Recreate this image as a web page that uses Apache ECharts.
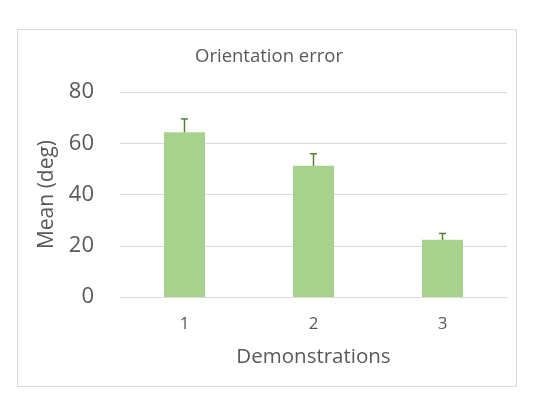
<!DOCTYPE html>
<html>
<head>
<meta charset="utf-8">
<style>
  html, body { margin: 0; padding: 0; background: #fff; }
  #wrap { position: relative; width: 538px; height: 419px; }
  #frame { position: absolute; left: 17px; top: 29px; width: 500px; height: 358px; border: 1px solid #d9d9d9; box-sizing: border-box; }
  #chart { position: absolute; left: 0; top: 0; width: 538px; height: 419px; }
</style>
<script src="https://cdn.jsdelivr.net/npm/echarts@6/dist/echarts.min.js"></script>
</head>
<body>
<div id="wrap">
  <div id="frame"></div>
  <div id="chart"></div>
</div>
<script>
// data
let categories = ['1', '2', '3']
let means = [64.3, 51.2, 22.3]
let errors = [5.2, 4.7, 2.5]
let yTicks = [0, 20, 40, 60, 80]

let font = '"Open Sans", "Noto Sans", sans-serif'
let textColor = '#595959'

let chart = echarts.init(document.getElementById('chart'))

let option = {
    animation: false,
    title: {
        text: 'Orientation error',
        left: 'center',
        top: 42,
        textStyle: { fontSize: 18.5, fontWeight: 'normal', color: textColor, fontFamily: font }
    },
    grid: {
        left: 120,
        right: 31,
        top: 92,
        bottom: 122
    },
    xAxis: {
        type: 'category',
        data: categories,
        name: 'Demonstrations',
        nameLocation: 'middle',
        nameGap: 50,
        nameTextStyle: { fontSize: 20.5, color: textColor, fontFamily: font },
        axisLine: { show: true, lineStyle: { color: '#d9d9d9', width: 1 } },
        axisTick: { show: false },
        axisLabel: { fontSize: 17, color: textColor, fontFamily: font, margin: 19 }
    },
    yAxis: {
        type: 'value',
        min: yTicks[0],
        max: yTicks[yTicks.length - 1],
        interval: 20,
        name: 'Mean (deg)',
        nameLocation: 'middle',
        nameGap: 62,
        nameTextStyle: { fontSize: 21, color: textColor, fontFamily: font },
        axisLine: { show: false },
        axisTick: { show: false },
        axisLabel: { fontSize: 22, color: textColor, fontFamily: font, margin: 26 },
        splitLine: { lineStyle: { color: '#d9d9d9', width: 1 } }
    },
    series: [
        {
            type: 'bar',
            data: means,
            barWidth: 41,
            itemStyle: { color: '#a9d18e' }
        },
        {
            type: 'custom',
            data: means.map((m, i) => [i, m, m + errors[i]]),
            z: 3,
            renderItem: function (params, api) {
                let lo = api.coord([api.value(0), api.value(1)])
                let hi = api.coord([api.value(0), api.value(2)])
                let cap = 3.5
                let style = { stroke: '#548235', lineWidth: 1.5 }
                return {
                    type: 'group',
                    children: [
                        { type: 'line', shape: { x1: hi[0], y1: lo[1], x2: hi[0], y2: hi[1] }, style: style },
                        { type: 'line', shape: { x1: hi[0] - cap, y1: hi[1], x2: hi[0] + cap, y2: hi[1] }, style: style }
                    ]
                }
            }
        }
    ]
}

chart.setOption(option)
</script>
</body>
</html>
